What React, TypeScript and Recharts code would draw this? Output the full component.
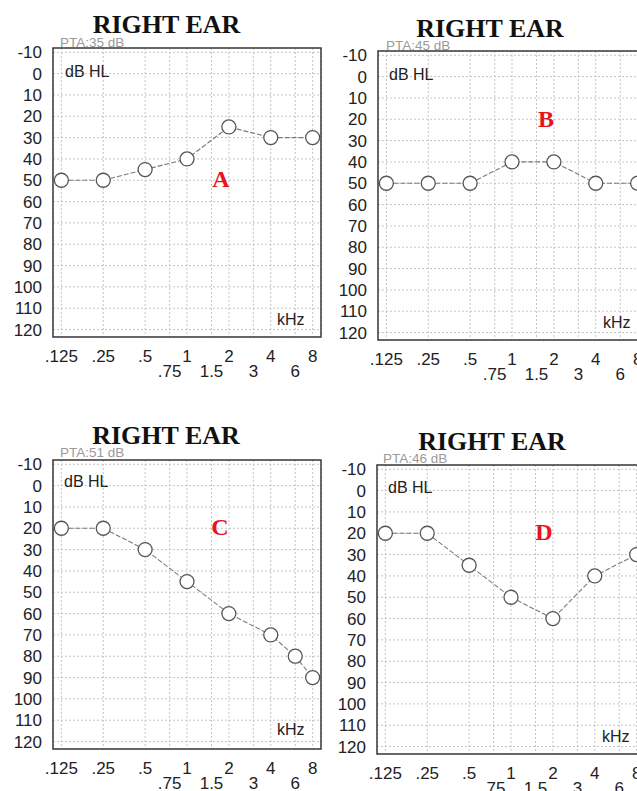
import React from "react";
import { LineChart, Line, XAxis, YAxis, CartesianGrid, ReferenceArea } from "recharts";

// audiogram values (dB HL) per panel
const FREQS_A = [0.125, 0.25, 0.5, 1, 2, 4, 8];
const DB_A = [50, 50, 45, 40, 25, 30, 30];
const FREQS_B = [0.125, 0.25, 0.5, 1, 2, 4, 8];
const DB_B = [50, 50, 50, 40, 40, 50, 50];
const FREQS_C = [0.125, 0.25, 0.5, 1, 2, 4, 6, 8];
const DB_C = [20, 20, 30, 45, 60, 70, 80, 90];
const FREQS_D = [0.125, 0.25, 0.5, 1, 2, 4, 8];
const DB_D = [20, 20, 35, 50, 60, 40, 30];
const PTA = [35, 45, 51, 46];
const LETTERS = ["A", "B", "C", "D"];

const TICK_FREQS = [0.125, 0.25, 0.5, 0.75, 1, 1.5, 2, 3, 4, 6, 8];
const TICK_LABELS = [".125", ".25", ".5", ".75", "1", "1.5", "2", "3", "4", "6", "8"];
const LOWER_ROW = [".75", "1.5", "3", "6"];
const DB_TICKS = [-10, 0, 10, 20, 30, 40, 50, 60, 70, 80, 90, 100, 110, 120];

const SANS = "'Liberation Sans', Arial, sans-serif";
const SERIF = "'Liberation Serif', 'Times New Roman', serif";

const PLOT_W = 268;
const PLOT_H = 289;
const AXIS_W = 53;
const TOP_PAD = 20;

// page layout of each panel (plot box origin + text anchors)
const LAYOUT = [
  { left: 53, top: 48, title: [166.5, 33], pta: [60, 47], hl: [65, 77], khz: [277, 325], letter: [221, 187] },
  { left: 378, top: 51, title: [490, 37], pta: [386, 50], hl: [389, 80], khz: [603, 328], letter: [546, 127] },
  { left: 53, top: 460, title: [166, 444], pta: [60, 457], hl: [64, 487], khz: [277, 735], letter: [220, 535] },
  { left: 377, top: 465, title: [492, 450], pta: [383, 463], hl: [388, 493], khz: [602, 742], letter: [544, 540] },
];

const SERIES = [
  { freqs: FREQS_A, db: DB_A },
  { freqs: FREQS_B, db: DB_B },
  { freqs: FREQS_C, db: DB_C },
  { freqs: FREQS_D, db: DB_D },
];

const X_DOMAIN = [-3.2, 3.2];
const Y_DOMAIN = [-12, 123.5];

function FreqTick(props: any) {
  const { x, y, payload } = props;
  const i = TICK_FREQS.findIndex((f) => Math.abs(Math.log2(f) - payload.value) < 1e-6);
  const label = TICK_LABELS[i];
  const lower = LOWER_ROW.includes(label);
  return (
    <text x={x} y={y + (lower ? 39.5 : 24.5)} textAnchor="middle" fontSize={17} fill="#222" fontFamily={SANS}>
      {label}
    </text>
  );
}

function Audiogram({ idx }: { idx: number }) {
  const lay = LAYOUT[idx];
  const s = SERIES[idx];
  const data = s.freqs.map((f, i) => ({ x: Math.log2(f), db: s.db[i] }));
  return (
    <div style={{ position: "absolute", left: lay.left - AXIS_W, top: lay.top - TOP_PAD }}>
      <LineChart
        width={AXIS_W + PLOT_W + 9}
        height={TOP_PAD + PLOT_H + 90}
        data={data}
        margin={{ top: TOP_PAD, right: 9, left: 0, bottom: 40 }}
      >
        <CartesianGrid stroke="#c4c4c4" strokeDasharray="2 2" />
        <XAxis
          type="number"
          dataKey="x"
          domain={X_DOMAIN}
          ticks={TICK_FREQS.map((f) => Math.log2(f))}
          interval={0}
          tick={<FreqTick />}
          tickLine={false}
          axisLine={false}
          tickSize={0}
          tickMargin={0}
          height={50}
        />
        <YAxis
          type="number"
          reversed
          domain={Y_DOMAIN}
          ticks={DB_TICKS}
          interval={0}
          width={AXIS_W}
          tick={{ fontSize: 17, fill: "#222", fontFamily: SANS }}
          tickLine={false}
          axisLine={false}
          tickMargin={5}
        />
        <ReferenceArea
          x1={X_DOMAIN[0]}
          x2={X_DOMAIN[1]}
          y1={Y_DOMAIN[0]}
          y2={Y_DOMAIN[1]}
          fill="none"
          stroke="#3a3a3a"
          strokeWidth={1.5}
          ifOverflow="visible"
        />
        <Line
          dataKey="db"
          stroke="#7a7a7a"
          strokeWidth={1.1}
          strokeDasharray="5 2"
          dot={{ r: 7, fill: "#fff", stroke: "#555", strokeWidth: 1.3, strokeDasharray: "none" }}
          activeDot={false}
          isAnimationActive={false}
        />
      </LineChart>
    </div>
  );
}

export default function App() {
  return (
    <div style={{ position: "absolute", left: 0, top: 0, width: 637, height: 791, overflow: "hidden", background: "#fff" }}>
      {LAYOUT.map((_, i) => (
        <Audiogram key={i} idx={i} />
      ))}
      <svg width={637} height={791} style={{ position: "absolute", left: 0, top: 0, pointerEvents: "none" }}>
        {LAYOUT.map((lay, i) => (
          <g key={i}>
            <text x={lay.title[0]} y={lay.title[1]} textAnchor="middle" fontFamily={SERIF} fontWeight="bold" fontSize={26} fill="#111">
              RIGHT EAR
            </text>
            <text x={lay.pta[0]} y={lay.pta[1]} fontFamily={SANS} fontSize={13.5} fill="#9a9a9a">
              {`PTA:${PTA[i]} dB`}
            </text>
            <text x={lay.hl[0]} y={lay.hl[1]} fontFamily={SANS} fontSize={16} fill="#222">
              dB HL
            </text>
            <text x={lay.khz[0]} y={lay.khz[1]} fontFamily={SANS} fontSize={16} fill="#222">
              kHz
            </text>
            <text x={lay.letter[0]} y={lay.letter[1]} textAnchor="middle" fontFamily={SERIF} fontWeight="bold" fontSize={24} fill="#e8141c">
              {LETTERS[i]}
            </text>
          </g>
        ))}
      </svg>
    </div>
  );
}
